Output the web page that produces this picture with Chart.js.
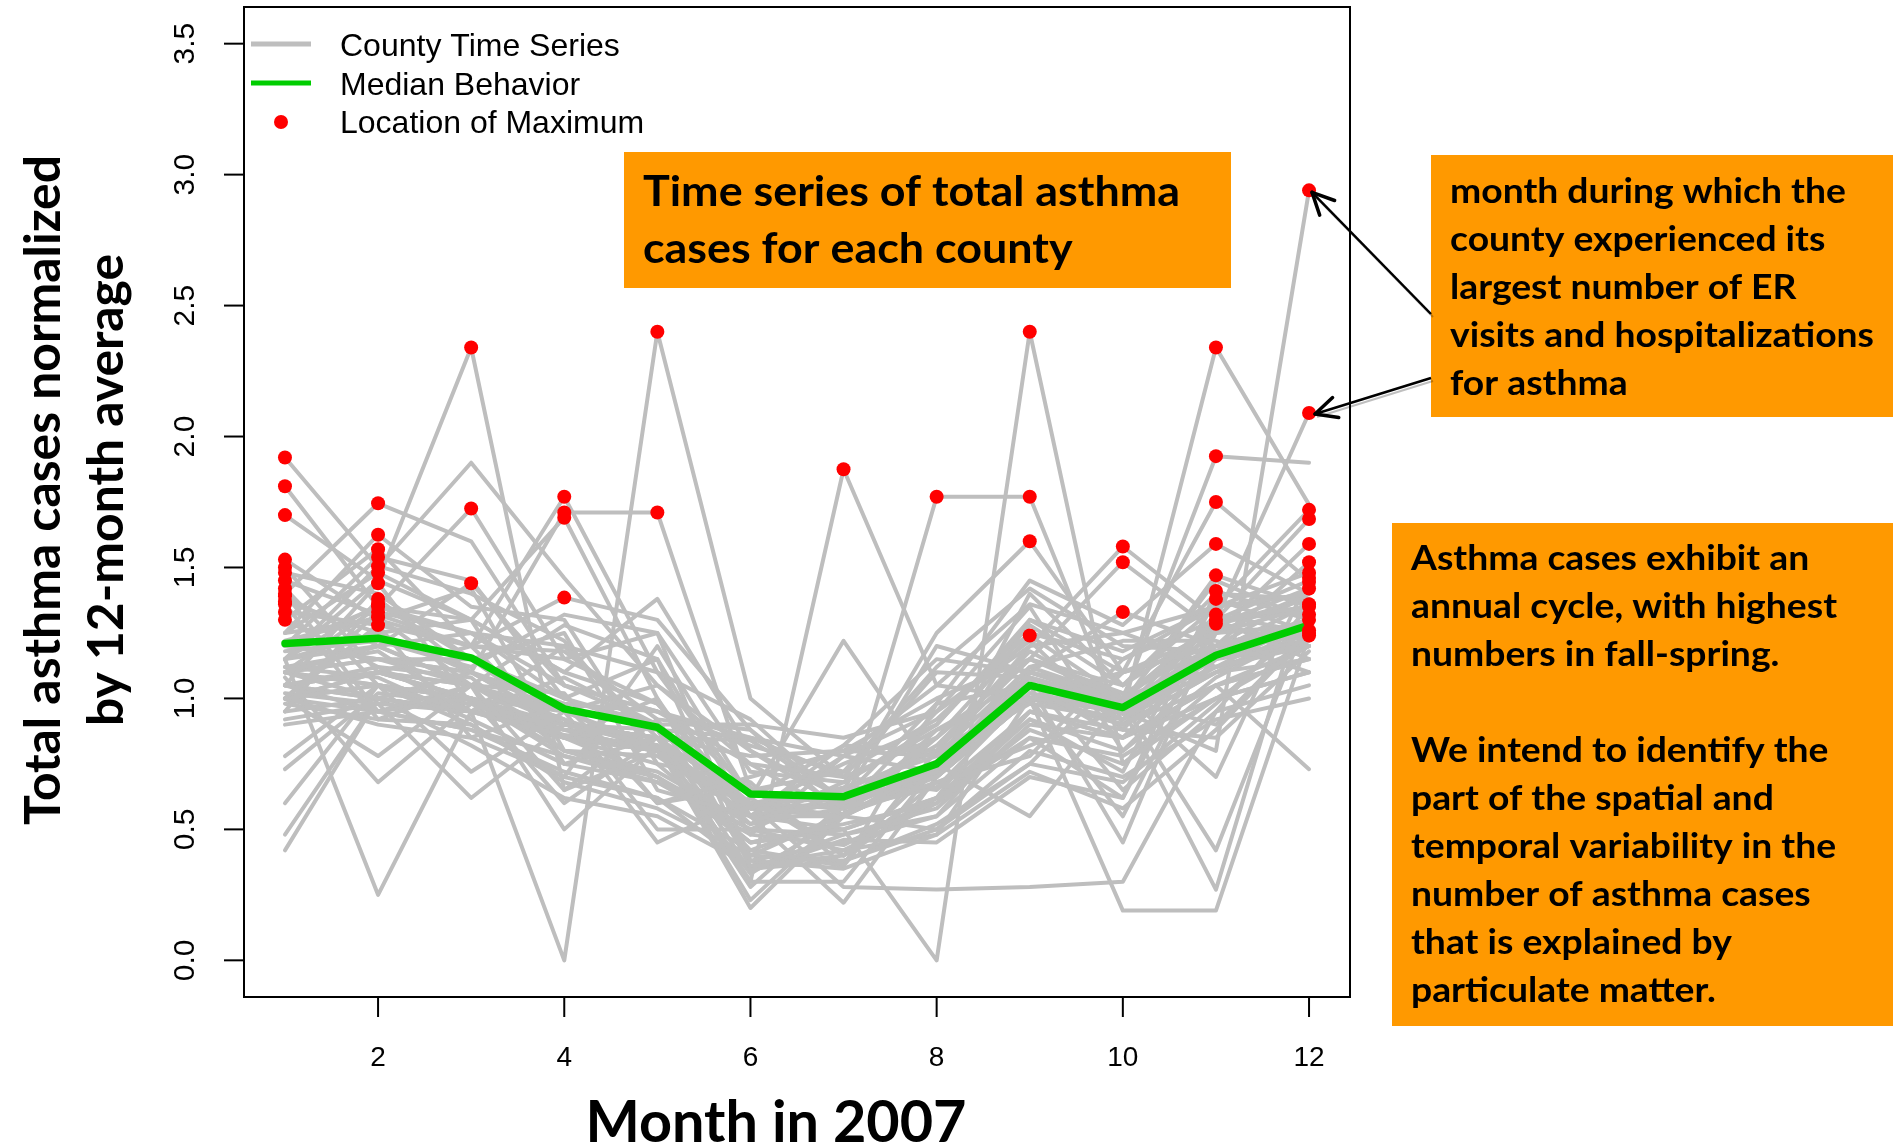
<!DOCTYPE html>
<html>
<head>
<meta charset="utf-8">
<script src="https://cdn.jsdelivr.net/npm/chart.js@4.4.0/dist/chart.umd.min.js"></script>
<title>asthma_county_series</title>
<style>
  html, body { margin: 0; padding: 0; background: #fff; }
  canvas { display: block; }
</style>
</head>
<body>
<canvas id="myChart" width="1893" height="1147"></canvas>
<script>
// ---- data ----
const months = [1, 2, 3, 4, 5, 6, 7, 8, 9, 10, 11, 12];
const xTicks = [2, 4, 6, 8, 10, 12];
const yTicks = [0, 0.5, 1, 1.5, 2, 2.5, 3, 3.5];
const yTickLabels = ['0.0', '0.5', '1.0', '1.5', '2.0', '2.5', '3.0', '3.5'];

const medianBehavior = [1.21, 1.23, 1.155, 0.96, 0.89, 0.635, 0.625, 0.75, 1.05, 0.965, 1.165, 1.28];

// one row per county, Jan..Dec (normalized by 12-month average)
const countySeries = [
  [1.92, 1.50, 1.90, 1.46, 1.05, 0.75, 0.70, 0.85, 1.15, 1.00, 1.30, 1.45],
  [1.81, 1.35, 1.25, 1.20, 1.10, 0.92, 0.60, 0.72, 1.30, 1.10, 1.20, 1.30],
  [1.70, 1.45, 1.30, 1.10, 1.38, 0.80, 0.58, 0.95, 1.20, 1.25, 1.35, 1.40],
  [1.53, 1.30, 1.42, 0.80, 0.70, 0.45, 0.52, 0.60, 0.88, 0.75, 1.00, 1.20],
  [1.48, 1.40, 1.15, 1.25, 0.65, 0.55, 0.78, 0.95, 1.35, 0.80, 1.15, 1.30],
  [1.42, 1.05, 0.90, 0.70, 1.20, 0.62, 0.40, 0.68, 0.78, 1.15, 1.30, 1.35],
  [1.39, 1.20, 1.25, 1.00, 0.88, 0.85, 0.70, 1.10, 1.08, 0.65, 0.95, 1.05],
  [1.36, 0.92, 1.05, 0.65, 0.92, 0.38, 0.45, 0.55, 0.95, 0.88, 0.85, 1.18],
  [1.33, 1.28, 0.85, 0.98, 0.60, 0.70, 0.80, 0.78, 1.12, 1.22, 1.22, 1.10],
  [1.50, 1.10, 1.00, 0.78, 0.70, 0.50, 0.48, 0.58, 0.90, 0.85, 1.05, 1.15],
  [1.45, 1.32, 1.20, 1.15, 0.98, 0.58, 0.75, 0.90, 1.28, 1.05, 1.40, 1.38],
  [1.40, 0.95, 0.88, 0.72, 0.62, 0.42, 0.55, 0.50, 0.80, 0.70, 0.92, 1.00],
  [1.37, 1.25, 1.10, 0.95, 1.05, 0.80, 0.62, 0.82, 1.18, 0.98, 1.12, 1.30],
  [1.30, 1.12, 0.95, 1.20, 0.85, 0.52, 0.68, 0.88, 1.00, 1.10, 1.25, 1.28],
  [1.40, 1.745, 1.60, 1.05, 0.90, 0.60, 0.65, 0.70, 1.10, 1.00, 1.25, 1.35],
  [1.25, 1.625, 1.35, 1.30, 0.75, 0.68, 0.36, 0.98, 1.05, 0.85, 1.20, 1.40],
  [1.30, 1.57, 1.20, 0.85, 1.00, 0.48, 0.78, 0.72, 1.40, 1.05, 1.28, 1.38],
  [1.20, 1.54, 1.45, 1.00, 1.15, 0.55, 0.82, 0.80, 1.00, 0.98, 1.45, 1.30],
  [1.15, 1.505, 1.40, 1.22, 0.80, 0.33, 0.55, 0.88, 1.08, 0.92, 1.18, 1.25],
  [0.95, 1.38, 1.10, 0.98, 0.95, 0.85, 0.78, 1.05, 1.36, 1.25, 1.12, 1.20],
  [1.10, 1.35, 1.30, 0.75, 0.85, 0.40, 0.56, 0.68, 0.82, 0.96, 1.10, 1.28],
  [1.22, 1.31, 1.05, 1.02, 0.60, 0.66, 0.40, 0.74, 1.12, 1.00, 0.90, 1.26],
  [1.00, 1.28, 1.20, 1.18, 0.92, 0.88, 0.60, 0.76, 1.05, 0.94, 1.16, 1.22],
  [1.25, 1.48, 1.30, 1.10, 0.98, 0.65, 0.72, 0.92, 1.25, 1.15, 1.35, 1.40],
  [1.05, 1.44, 0.98, 0.85, 0.70, 0.45, 0.50, 0.62, 0.85, 0.78, 1.00, 1.10],
  [1.15, 1.36, 1.15, 0.90, 0.82, 0.58, 0.66, 0.78, 0.98, 0.92, 1.30, 1.33],
  [1.00, 1.33, 1.25, 1.05, 0.95, 0.75, 0.55, 0.85, 1.15, 1.02, 1.20, 1.25],
  [1.15, 1.45, 2.34, 0.65, 0.80, 0.55, 0.50, 0.62, 0.95, 0.85, 1.05, 1.15],
  [1.20, 1.35, 1.725, 1.15, 1.25, 0.38, 0.35, 0.48, 1.00, 0.96, 1.20, 1.30],
  [1.10, 1.20, 1.44, 1.05, 0.95, 0.82, 0.72, 1.12, 1.42, 1.20, 1.18, 1.25],
  [1.25, 1.30, 1.20, 1.77, 1.10, 0.62, 1.22, 0.70, 1.00, 0.90, 1.10, 1.25],
  [1.20, 1.15, 1.10, 1.71, 1.71, 0.65, 0.60, 0.72, 1.05, 0.95, 1.15, 1.30],
  [1.15, 1.25, 1.30, 1.69, 1.00, 0.36, 0.40, 0.62, 1.10, 0.98, 1.20, 1.28],
  [1.05, 1.10, 1.20, 1.385, 1.30, 0.88, 0.55, 0.75, 1.00, 0.92, 1.12, 1.22],
  [1.00, 1.05, 0.95, 0.00, 2.40, 1.00, 0.70, 0.65, 0.95, 0.85, 1.00, 1.10],
  [1.10, 1.00, 0.95, 0.90, 0.85, 0.30, 1.875, 1.05, 1.00, 0.90, 1.05, 1.20],
  [1.00, 1.10, 1.05, 0.95, 0.80, 0.55, 0.55, 1.77, 1.77, 0.90, 1.10, 1.15],
  [1.05, 0.95, 1.00, 0.85, 0.75, 0.45, 0.50, 0.00, 2.40, 0.75, 1.05, 0.73],
  [1.10, 1.15, 1.05, 0.90, 0.85, 0.60, 0.65, 1.25, 1.60, 1.10, 1.20, 1.30],
  [0.78, 1.05, 1.00, 0.80, 0.78, 0.55, 0.60, 0.85, 1.24, 1.00, 1.15, 1.20],
  [1.10, 1.20, 1.05, 0.85, 0.80, 0.42, 0.36, 0.80, 1.20, 1.58, 1.30, 1.35],
  [1.05, 1.10, 1.00, 0.90, 0.85, 0.78, 0.80, 1.00, 1.15, 1.52, 1.25, 1.40],
  [1.00, 1.05, 0.72, 0.95, 0.82, 0.58, 0.55, 0.72, 1.10, 1.33, 1.20, 1.25],
  [1.05, 1.00, 0.95, 0.85, 0.80, 0.55, 0.60, 0.70, 1.00, 0.95, 2.34, 1.74],
  [1.20, 1.15, 1.10, 0.90, 0.85, 0.60, 0.62, 1.20, 1.10, 1.00, 1.925, 1.90],
  [1.15, 1.20, 1.05, 1.28, 1.15, 0.35, 0.38, 0.50, 0.75, 1.10, 1.75, 1.45],
  [1.10, 1.05, 1.00, 0.88, 0.85, 0.84, 0.62, 0.98, 1.45, 1.28, 1.59, 1.40],
  [1.00, 0.78, 1.05, 0.92, 0.80, 0.58, 0.55, 0.72, 1.08, 0.98, 1.47, 1.35],
  [1.05, 1.00, 1.10, 0.90, 0.88, 0.34, 0.46, 0.45, 0.70, 0.62, 1.41, 1.30],
  [0.60, 1.05, 1.00, 0.85, 0.82, 0.28, 0.60, 0.70, 1.00, 0.95, 1.32, 1.25],
  [0.92, 0.98, 0.95, 0.88, 0.80, 0.60, 0.58, 0.74, 1.05, 1.00, 1.285, 1.20],
  [1.12, 1.08, 0.92, 0.75, 0.68, 0.50, 0.42, 0.60, 0.92, 0.72, 1.38, 1.25],
  [1.00, 0.90, 0.85, 0.70, 0.62, 0.35, 0.48, 0.55, 0.85, 0.62, 1.30, 1.15],
  [1.10, 1.15, 1.15, 1.00, 0.90, 0.55, 0.60, 0.70, 1.05, 0.95, 0.80, 2.94],
  [1.05, 1.10, 1.00, 0.60, 0.85, 0.60, 0.55, 0.75, 0.55, 1.00, 1.30, 2.09],
  [1.10, 1.05, 1.00, 0.95, 0.50, 0.50, 0.65, 0.80, 1.15, 1.05, 1.35, 1.72],
  [1.00, 1.10, 1.05, 0.50, 0.82, 0.58, 0.60, 0.72, 1.05, 0.45, 1.30, 1.685],
  [0.42, 1.00, 0.95, 0.85, 0.80, 0.55, 0.22, 0.70, 1.00, 0.55, 1.25, 1.59],
  [1.15, 0.25, 0.95, 0.90, 0.85, 0.60, 0.62, 0.75, 1.08, 0.98, 1.20, 1.52],
  [1.00, 0.95, 1.05, 0.92, 0.45, 0.62, 0.82, 1.15, 1.10, 1.02, 0.70, 1.46],
  [1.08, 0.68, 0.98, 0.85, 0.82, 0.20, 0.55, 0.72, 1.02, 0.96, 0.27, 1.445],
  [0.48, 1.00, 0.95, 0.88, 0.80, 0.60, 0.28, 0.27, 0.28, 0.30, 0.95, 1.35],
  [1.02, 0.98, 0.62, 0.90, 0.85, 0.30, 0.30, 0.74, 1.05, 0.98, 0.42, 1.32],
  [0.73, 1.02, 0.98, 0.86, 0.82, 0.23, 0.56, 0.70, 1.00, 0.19, 0.19, 1.24],
  [1.18, 1.22, 1.12, 1.32, 1.25, 0.72, 0.68, 0.90, 1.30, 1.18, 1.35, 1.48],
  [0.98, 0.92, 0.90, 0.68, 0.58, 0.40, 0.38, 0.52, 0.75, 0.68, 0.98, 1.30],
  [1.12, 1.18, 0.95, 1.08, 0.90, 0.90, 0.85, 0.95, 1.22, 0.88, 1.28, 1.42],
  [0.95, 1.00, 0.82, 0.62, 0.55, 0.36, 0.42, 0.48, 0.72, 0.58, 0.88, 1.25],
  [1.05, 1.12, 1.08, 0.80, 0.72, 0.52, 0.58, 0.66, 1.02, 0.90, 1.18, 1.36],
  [0.90, 0.95, 0.88, 0.78, 0.68, 0.48, 0.44, 0.62, 0.92, 0.80, 1.08, 1.26]
];

const legendLabels = ['County Time Series', 'Median Behavior', 'Location of Maximum'];
const xTitle = 'Month in 2007';
const yTitleLines = ['Total asthma cases normalized', 'by 12-month average'];
const noteTopLines = ['Time series of total asthma', 'cases for each county'];
const noteRightLines = ['month during which the', 'county experienced its', 'largest number of ER',
  'visits and hospitalizations', 'for asthma'];
const noteBottomLines = ['Asthma cases exhibit an', 'annual cycle, with highest', 'numbers in fall-spring.', '',
  'We intend to identify the', 'part of the spatial and', 'temporal variability in the',
  'number of asthma cases', 'that is explained by', 'particulate matter.'];

// ---- build datasets ----
const GRAY = '#bebebe', GREEN = '#00cd00', RED = '#ff0000', ORANGE = '#ff9900';

let datasets = [];
countySeries.forEach((row, k) => {
  datasets.push({
    label: 'county ' + (k + 1),
    data: row.map((v, i) => ({ x: months[i], y: v })),
    showLine: true,
    borderColor: GRAY,
    borderWidth: 4,
    pointRadius: 0,
    borderCapStyle: 'round',
    borderJoinStyle: 'round',
    order: 3
  });
});

datasets.push({
  label: 'median',
  data: medianBehavior.map((v, i) => ({ x: months[i], y: v })),
  showLine: true,
  borderColor: GREEN,
  borderWidth: 7.5,
  pointRadius: 0,
  borderCapStyle: 'round',
  borderJoinStyle: 'round',
  order: 2
});

// red dot wherever a county reaches its own maximum
let maxPoints = [];
countySeries.forEach(row => {
  const m = Math.max(...row);
  row.forEach((v, i) => { if (v === m) maxPoints.push({ x: months[i], y: v }); });
});
datasets.push({
  label: 'max',
  data: maxPoints,
  showLine: false,
  pointRadius: 7,
  pointBackgroundColor: RED,
  pointBorderWidth: 0,
  order: 1
});

// ---- drawing helpers ----
function seg(ctx, x1, y1, x2, y2) {
  ctx.beginPath(); ctx.moveTo(x1, y1); ctx.lineTo(x2, y2); ctx.stroke();
}

// left aligned lines, squeezed sideways so the widest one fits targetW
function noteText(ctx, lines, x, y0, step, font, targetW) {
  ctx.font = font;
  const w = Math.max(...lines.map(l => ctx.measureText(l).width));
  const sx = Math.min(1.1, targetW / w);
  ctx.fillStyle = '#000';
  ctx.textAlign = 'left';
  ctx.textBaseline = 'alphabetic';
  lines.forEach((l, i) => {
    if (!l) return;
    ctx.save();
    ctx.translate(x, y0 + i * step);
    ctx.scale(sx, 1);
    ctx.fillText(l, 0, 0);
    ctx.restore();
  });
}

function arrow(ctx, x1, y1, x2, y2) {
  const ang = Math.atan2(y2 - y1, x2 - x1);
  const L = 24, spread = 0.45;
  ctx.strokeStyle = 'rgba(0,0,0,0.25)';
  ctx.lineWidth = 2;
  seg(ctx, x1 + 2, y1 + 3, x2 + 2, y2 + 3);
  ctx.strokeStyle = '#000';
  ctx.lineWidth = 2.5;
  seg(ctx, x1, y1, x2, y2);
  ctx.lineWidth = 3.5;
  ctx.lineCap = 'round';
  seg(ctx, x2, y2, x2 - L * Math.cos(ang - spread), y2 - L * Math.sin(ang - spread));
  seg(ctx, x2, y2, x2 - L * Math.cos(ang + spread), y2 - L * Math.sin(ang + spread));
  ctx.lineCap = 'butt';
}

const rFrame = {
  id: 'rFrame',
  afterDraw(chart) {
    const { ctx, chartArea: a, scales: { x, y } } = chart;
    ctx.save();

    // plot box
    ctx.strokeStyle = '#000';
    ctx.lineWidth = 2;
    ctx.strokeRect(a.left, a.top, a.right - a.left, a.bottom - a.top);

    // x axis ticks + labels
    ctx.fillStyle = '#000';
    ctx.font = '28px "Liberation Sans", Arial, sans-serif';
    ctx.textAlign = 'center';
    ctx.textBaseline = 'middle';
    xTicks.forEach(t => {
      const px = x.getPixelForValue(t);
      seg(ctx, px, a.bottom, px, a.bottom + 20);
      ctx.fillText(String(t), px, a.bottom + 61);
    });

    // y axis ticks + rotated labels
    ctx.font = '30px "Liberation Sans", Arial, sans-serif';
    yTicks.forEach((t, i) => {
      const py = y.getPixelForValue(t);
      seg(ctx, a.left, py, a.left - 20, py);
      ctx.save();
      ctx.translate(a.left - 58, py);
      ctx.rotate(-Math.PI / 2);
      ctx.fillText(yTickLabels[i], 0, 0);
      ctx.restore();
    });

    // axis titles
    ctx.font = 'bold 58px Lato, "Open Sans", sans-serif';
    ctx.textBaseline = 'alphabetic';
    let w = ctx.measureText(xTitle).width;
    ctx.save();
    ctx.translate(776, 1142);
    ctx.scale(Math.min(1, 381 / w), 1);
    ctx.textAlign = 'center';
    ctx.fillText(xTitle, 0, 0);
    ctx.restore();

    ctx.font = 'bold 50px Lato, "Open Sans", sans-serif';
    w = ctx.measureText(yTitleLines[0]).width;
    const sy = Math.min(1, 670 / w);
    [60, 123].forEach((bx, i) => {
      ctx.save();
      ctx.translate(bx, 490);
      ctx.rotate(-Math.PI / 2);
      ctx.scale(sy, 1);
      ctx.textAlign = 'center';
      ctx.fillText(yTitleLines[i], 0, 0);
      ctx.restore();
    });

    // legend (top left inside the box)
    ctx.lineWidth = 5;
    ctx.strokeStyle = GRAY;
    seg(ctx, 251, 44, 311, 44);
    ctx.strokeStyle = GREEN;
    seg(ctx, 251, 83, 311, 83);
    ctx.fillStyle = RED;
    ctx.beginPath(); ctx.arc(281, 122, 7, 0, Math.PI * 2); ctx.fill();
    ctx.fillStyle = '#000';
    ctx.font = '32px "Liberation Sans", Arial, sans-serif';
    ctx.textAlign = 'left';
    ctx.textBaseline = 'alphabetic';
    legendLabels.forEach((l, i) => ctx.fillText(l, 340, 56 + i * 38.5));

    // orange notes
    ctx.fillStyle = ORANGE;
    ctx.fillRect(624, 152, 607, 136);
    ctx.fillRect(1431, 155, 462, 262);
    ctx.fillRect(1392, 523, 501, 503);
    noteText(ctx, noteTopLines, 643, 206, 57, 'bold 42px Lato, "Open Sans", sans-serif', 537);
    noteText(ctx, noteRightLines, 1450, 203, 48, 'bold 34px Lato, "Open Sans", sans-serif', 424);
    noteText(ctx, noteBottomLines, 1411, 570, 48, 'bold 34px Lato, "Open Sans", sans-serif', 426);

    // arrows from the note to two of the maxima in December
    const px12 = x.getPixelForValue(12);
    arrow(ctx, 1431, 314, px12 + 3, y.getPixelForValue(2.94) + 2);
    arrow(ctx, 1431, 378, px12 + 6, y.getPixelForValue(2.09) + 1);

    ctx.restore();
  }
};

const canvas = document.getElementById('myChart');
const myChart = new Chart(canvas, {
  type: 'scatter',
  data: { datasets: datasets },
  options: {
    responsive: false,
    animation: false,
    events: [],
    layout: { padding: { left: 244, right: 543, top: 5, bottom: 150 } },
    plugins: {
      legend: { display: false },
      tooltip: { enabled: false }
    },
    scales: {
      x: { type: 'linear', min: 0.56, max: 12.44, display: false },
      y: { type: 'linear', min: -0.14, max: 3.64, display: false }
    }
  },
  plugins: [rFrame]
});
</script>
</body>
</html>
